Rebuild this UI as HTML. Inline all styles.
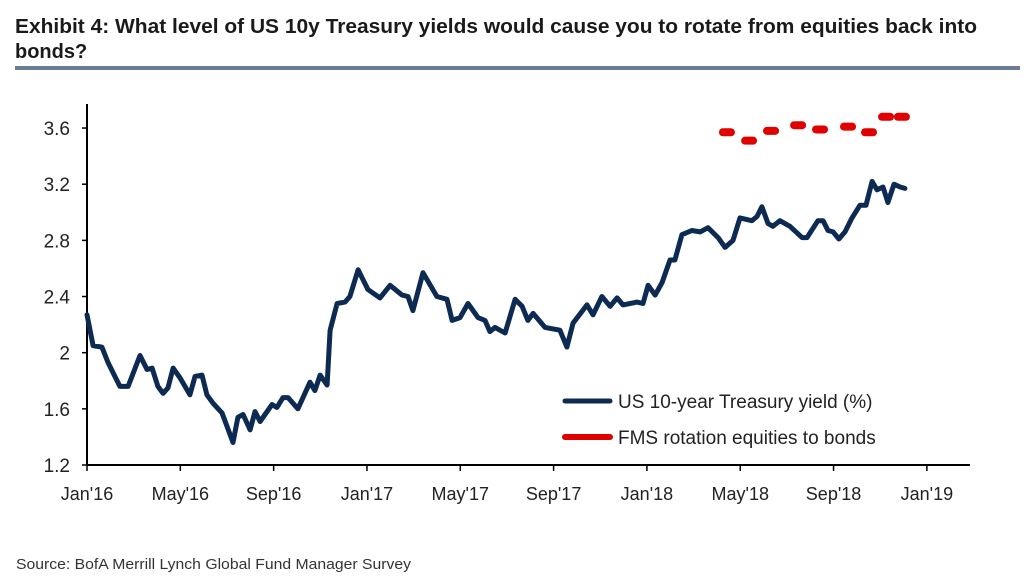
<!DOCTYPE html>
<html><head><meta charset="utf-8"><style>
body{margin:0;background:#fff;}
svg{display:block;font-family:"Liberation Sans",sans-serif;}
</style></head><body>
<svg id="chart" width="1024" height="584" viewBox="0 0 1024 584" xmlns="http://www.w3.org/2000/svg">
<text x="15" y="33" font-size="20" font-weight="bold" fill="#1a1a1a" textLength="962" lengthAdjust="spacingAndGlyphs">Exhibit 4: What level of US 10y Treasury yields would cause you to rotate from equities back into</text>
<text x="15" y="58" font-size="20" font-weight="bold" fill="#1a1a1a">bonds?</text>
<rect x="15" y="66" width="1005" height="4" fill="#6b7c95"/>
<g id="axes"></g>
<g id="series"></g>
<g>
<line x1="565" y1="401" x2="610" y2="401" stroke="#0d2a52" stroke-width="5" stroke-linecap="round"/>
<text x="618" y="408" font-size="19" fill="#222">US 10-year Treasury yield (%)</text>
<line x1="565" y1="437" x2="610" y2="437" stroke="#e00000" stroke-width="6" stroke-linecap="round"/>
<text x="618" y="444" font-size="19" fill="#222">FMS rotation equities to bonds</text>
</g>
<text x="16" y="569" font-size="15" fill="#333" textLength="395" lengthAdjust="spacingAndGlyphs">Source:  BofA Merrill Lynch Global Fund Manager Survey</text>
</svg>
<script>
const yieldMonths=[0,0.26,0.64,0.9,1.41,1.76,2.27,2.57,2.79,3.04,3.26,3.47,3.69,3.99,4.41,4.63,4.93,5.14,5.4,5.79,6.26,6.47,6.69,6.99,7.2,7.42,7.93,8.14,8.4,8.62,9.04,9.56,9.77,9.99,10.29,10.42,10.72,11.06,11.27,11.62,12.04,12.56,12.99,13.5,13.76,13.97,14.4,15.0,15.43,15.65,15.99,16.33,16.76,17.06,17.27,17.49,17.92,18.35,18.65,18.9,19.12,19.63,20.27,20.57,20.83,21.43,21.69,22.07,22.42,22.72,22.97,23.57,23.83,24.05,24.35,24.65,24.99,25.2,25.5,25.93,26.28,26.62,27.05,27.35,27.69,27.99,28.5,28.72,28.93,29.19,29.4,29.7,30.13,30.65,30.86,31.33,31.55,31.76,31.98,32.23,32.49,32.79,33.13,33.39,33.65,33.86,34.12,34.33,34.59,34.85,35.06];
const yieldValues=[2.27,2.05,2.04,1.93,1.76,1.76,1.98,1.88,1.89,1.76,1.71,1.75,1.89,1.82,1.70,1.83,1.84,1.70,1.64,1.57,1.36,1.54,1.56,1.45,1.58,1.51,1.63,1.61,1.68,1.68,1.60,1.79,1.73,1.84,1.77,2.16,2.35,2.36,2.40,2.59,2.45,2.39,2.48,2.41,2.40,2.30,2.57,2.40,2.38,2.23,2.25,2.35,2.25,2.23,2.15,2.18,2.14,2.38,2.33,2.23,2.28,2.18,2.16,2.04,2.21,2.34,2.27,2.40,2.33,2.39,2.34,2.36,2.35,2.48,2.41,2.50,2.66,2.66,2.84,2.87,2.86,2.89,2.82,2.75,2.80,2.96,2.94,2.97,3.04,2.92,2.90,2.94,2.90,2.82,2.82,2.94,2.94,2.87,2.86,2.81,2.86,2.96,3.05,3.05,3.22,3.16,3.18,3.07,3.20,3.18,3.17];
const fmsMonths=[27.43,28.38,29.32,30.48,31.42,32.62,33.52,34.25,34.93];
const fmsValues=[3.57,3.51,3.58,3.62,3.59,3.61,3.57,3.68,3.68];
const yTicks=[1.2,1.6,2,2.4,2.8,3.2,3.6];
const yTickLabels=["1.2","1.6","2","2.4","2.8","3.2","3.6"];
const xTickMonths=[0,4,8,12,16,20,24,28,32,36];
const xTickLabels=["Jan'16","May'16","Sep'16","Jan'17","May'17","Sep'17","Jan'18","May'18","Sep'18","Jan'19"];

const NS="http://www.w3.org/2000/svg";
const X0=87,PXM=23.33,Y0=465,PXV=140.4;
function xs(m){return X0+m*PXM;}
function ys(v){return Y0-(v-1.2)*PXV;}
function mk(tag,attrs,parent){const e=document.createElementNS(NS,tag);for(const k in attrs)e.setAttribute(k,attrs[k]);parent.appendChild(e);return e;}
const axes=document.getElementById('axes'),series=document.getElementById('series');
let yl=mk('line',{x1:X0,y1:104,x2:X0,y2:Y0,stroke:'#000','stroke-width':2},axes);


let xl=mk('line',{x1:X0,y1:Y0,x2:970,y2:Y0,stroke:'#000','stroke-width':2},axes);


yTicks.forEach((v,i)=>{
  const t=mk('line',{x1:X0-5,y1:ys(v),x2:X0,y2:ys(v),stroke:'#000','stroke-width':1.5},axes);
  
  
  const l=mk('text',{x:70,y:ys(v)+7,'font-size':19,'text-anchor':'end',fill:'#222'},axes);
  l.textContent=yTickLabels[i];
  
  
});
xTickMonths.forEach((m,i)=>{
  const t=mk('line',{x1:xs(m),y1:Y0,x2:xs(m),y2:Y0+6,stroke:'#000','stroke-width':1.5},axes);
  
  
  const l=mk('text',{x:xs(m),y:500,'font-size':18,'text-anchor':'middle',fill:'#222'},axes);
  l.textContent=xTickLabels[i];
  
  
});
const pts=yieldMonths.map((m,i)=>xs(m).toFixed(1)+','+ys(yieldValues[i]).toFixed(1)).join(' ');
const pl=mk('polyline',{points:pts,fill:'none',stroke:'#0d2a52','stroke-width':5,'stroke-linejoin':'round','stroke-linecap':'round'},series);


fmsMonths.forEach((m,i)=>{
  const d=mk('line',{x1:xs(m)-4,y1:ys(fmsValues[i]),x2:xs(m)+4,y2:ys(fmsValues[i]),stroke:'#e00000','stroke-width':8,'stroke-linecap':'round'},series);
  
  
});
</script>
</body></html>
